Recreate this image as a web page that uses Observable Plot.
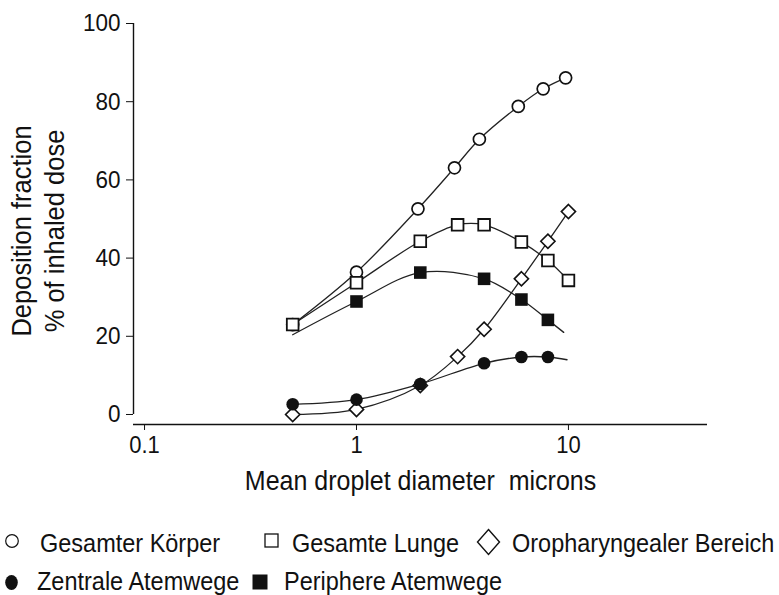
<!DOCTYPE html>
<html>
<head>
<meta charset="utf-8">
<script src="https://cdn.jsdelivr.net/npm/d3@7"></script>
<script src="https://cdn.jsdelivr.net/npm/@observablehq/plot@0.6"></script>
<style>
  html, body { margin: 0; padding: 0; background: #fff; }
  #chart { width: 779px; height: 595px; position: relative; }
  #chart svg { display: block; }
  #chart text { font-family: "Liberation Sans", Arial, sans-serif; white-space: pre; }
</style>
</head>
<body>
<div id="chart"></div>
<script>
// Deposition of inhaled droplets by mean droplet diameter (microns), % of inhaled dose
const diameters = [0.5, 1, 2, 3, 4, 6, 8, 10];
const gesamteLunge = [23.0, 33.7, 44.3, 48.5, 48.5, 44.1, 39.4, 34.3];
const oropharyngeal = [0.0, 1.3, 7.4, 14.8, 21.8, 34.7, 44.3, 51.9];

const koerperDiam = [0.5, 1, 1.95, 2.9, 3.8, 5.8, 7.6, 9.7];
const gesamterKoerper = [23.0, 36.4, 52.6, 63.1, 70.4, 78.8, 83.3, 86.1];

const zentralDiam = [0.5, 1, 2, 4, 6, 8];
const zentraleAtemwege = [2.6, 3.8, 7.8, 13.1, 14.7, 14.7];

const peripherDiam = [1, 2, 4, 6, 8];
const periphereAtemwege = [28.9, 36.3, 34.7, 29.4, 24.2];

// ends of the fitted curves that run past the measured points
const zentralCurveDiam = [9.85];
const zentralCurveVal = [14.0];
const peripherCurveDiam = [0.5, 9.5];
const peripherCurveVal = [20.4, 21.0];

const xTicks = [0.1, 1, 10];
const yTicks = [0, 20, 40, 60, 80, 100];
const xDomain = [0.0887, 45.3];
const yDomain = [-2.56, 100];

const xLabel = "Mean droplet diameter  microns";
const yLabel = "Deposition fraction\n% of inhaled dose";

const legendItems = [
  {label: "Gesamter Körper", symbol: "circle"},
  {label: "Gesamte Lunge", symbol: "square"},
  {label: "Oropharyngealer Bereich", symbol: "diamond"},
  {label: "Zentrale Atemwege", symbol: "filledCircle"},
  {label: "Periphere Atemwege", symbol: "filledSquare"}
];

const toRows = (xs, ys) => xs.map((d, i) => ({d, v: ys[i]}));
const byD = (a, b) => a.d - b.d;

const koerperRows = toRows(koerperDiam, gesamterKoerper);
const lungeRows = toRows(diameters, gesamteLunge);
const oroRows = toRows(diameters, oropharyngeal);
const zentralRows = toRows(zentralDiam, zentraleAtemwege);
const peripherRows = toRows(peripherDiam, periphereAtemwege);
const zentralCurve = zentralRows.concat(toRows(zentralCurveDiam, zentralCurveVal)).sort(byD);
const peripherCurve = peripherRows.concat(toRows(peripherCurveDiam, peripherCurveVal)).sort(byD);

const ink = "#111";
const lineInk = "#222";
const lineOpts = {x: "d", y: "v", stroke: lineInk, strokeWidth: 1.3, curve: "catmull-rom"};

const plot = Plot.plot({
  width: 779,
  height: 510,
  marginLeft: 133,
  marginRight: 72,
  marginTop: 23,
  marginBottom: 86,
  style: {fontFamily: "Liberation Sans, Arial, sans-serif", color: ink, background: "white", overflow: "visible"},
  x: {type: "log", domain: xDomain, label: null},
  y: {domain: yDomain, label: null},
  marks: [
    Plot.ruleY([yDomain[0]], {stroke: ink, strokeWidth: 1.4}),
    Plot.ruleX([xDomain[0]], {y1: 0, y2: 100, stroke: ink, strokeWidth: 1.4}),
    Plot.axisX(xTicks, {tickSize: 6, tickPadding: 5, fontSize: 22, tickFormat: d => String(d), stroke: ink}),
    Plot.axisY(yTicks, {tickSize: 7, tickPadding: 6, fontSize: 22.5, stroke: ink}),
    Plot.text([xLabel], {text: d => d, frameAnchor: "bottom", lineAnchor: "bottom", dy: 65, fontSize: 25, fill: ink}),
    Plot.text([yLabel], {text: d => d, frameAnchor: "left", textAnchor: "middle", rotate: -90, lineAnchor: "bottom", lineHeight: 1.15, dx: -70, dy: 7, fontSize: 25.5, fill: ink}),

    Plot.line(koerperRows, lineOpts),
    Plot.line(lungeRows, lineOpts),
    Plot.line(oroRows, lineOpts),
    Plot.line(zentralCurve, lineOpts),
    Plot.line(peripherCurve, lineOpts),

    Plot.dot(koerperRows, {x: "d", y: "v", symbol: "circle", r: 6, fill: "white", stroke: ink, strokeWidth: 1.7}),
    Plot.dot(oroRows, {x: "d", y: "v", symbol: "diamond2", r: 6.4, fill: "white", stroke: ink, strokeWidth: 1.6}),
    Plot.dot(zentralRows, {x: "d", y: "v", symbol: "circle", r: 6.3, fill: ink, stroke: "none"}),
    Plot.dot(lungeRows, {x: "d", y: "v", symbol: "square", r: 6.6, fill: "white", stroke: ink, strokeWidth: 1.8}),
    Plot.dot(peripherRows, {x: "d", y: "v", symbol: "square", r: 7.1, fill: ink, stroke: "none"})
  ]
});

// slightly tall lettering
const stretch = 1.1;
d3.select(plot).selectAll("text").each(function () {
  const t = d3.select(this);
  const tr = t.attr("transform");
  if (tr) {
    t.attr("transform", `${tr} scale(1,${stretch})`);
  } else {
    const x = +t.attr("x") || 0, y = +t.attr("y") || 0;
    t.attr("x", null).attr("y", null).attr("transform", `translate(${x},${y}) scale(1,${stretch})`);
  }
});

const chart = document.getElementById("chart");
chart.appendChild(plot);

// legend below the plot
const legendLayout = [
  {sx: 12, sy: 31, tx: 40, ty: 42},
  {sx: 271.5, sy: 30.5, tx: 292, ty: 42},
  {sx: 488.5, sy: 32, tx: 512, ty: 42},
  {sx: 11.5, sy: 72.5, tx: 37, ty: 80},
  {sx: 260, sy: 72, tx: 284, ty: 80}
];

const legend = d3.create("svg").attr("width", 779).attr("height", 85);
legendItems.forEach((item, i) => {
  const p = legendLayout[i];
  const g = legend.append("g");
  if (item.symbol === "circle") {
    g.append("circle").attr("cx", p.sx).attr("cy", p.sy).attr("r", 6.3)
      .attr("fill", "white").attr("stroke", ink).attr("stroke-width", 1.2);
  } else if (item.symbol === "square") {
    g.append("rect").attr("x", p.sx - 6.5).attr("y", p.sy - 6.5).attr("width", 13).attr("height", 13)
      .attr("fill", "white").attr("stroke", ink).attr("stroke-width", 1.3);
  } else if (item.symbol === "diamond") {
    g.append("path").attr("d", `M${p.sx},${p.sy - 12.5}L${p.sx + 11},${p.sy}L${p.sx},${p.sy + 12.5}L${p.sx - 11},${p.sy}Z`)
      .attr("fill", "white").attr("stroke", ink).attr("stroke-width", 1.4);
  } else if (item.symbol === "filledCircle") {
    g.append("ellipse").attr("cx", p.sx).attr("cy", p.sy).attr("rx", 6.3).attr("ry", 7.6).attr("fill", ink);
  } else {
    g.append("rect").attr("x", p.sx - 7.5).attr("y", p.sy - 7.5).attr("width", 15).attr("height", 15).attr("fill", ink);
  }
  g.append("text")
    .attr("transform", `translate(${p.tx},${p.ty}) scale(1,${stretch})`)
    .attr("font-size", 23.5)
    .attr("fill", ink)
    .text(item.label);
});
chart.appendChild(legend.node());
</script>
</body>
</html>
